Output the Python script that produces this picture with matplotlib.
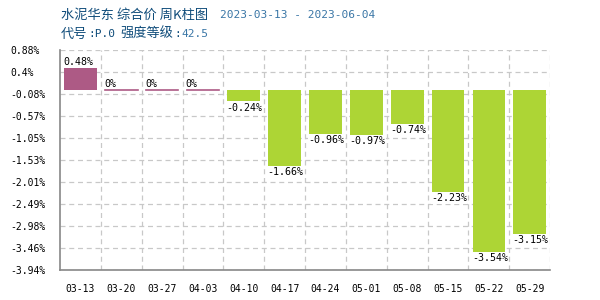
import numpy as np
import matplotlib.pyplot as plt

# weekly change data
weeks = ['03-13', '03-20', '03-27', '04-03', '04-10', '04-17',
         '04-24', '05-01', '05-08', '05-15', '05-22', '05-29']
change = [0.48, 0, 0, 0, -0.24, -1.66, -0.96, -0.97, -0.74, -2.23, -3.54, -3.15]
yticks = [0.88, 0.4, -0.08, -0.57, -1.05, -1.53, -2.01, -2.49, -2.98, -3.46, -3.94]
ytick_labels = ['0.88%', '0.4%', '-0.08%', '-0.57%', '-1.05%', '-1.53%',
                '-2.01%', '-2.49%', '-2.98%', '-3.46%', '-3.94%']

up_color = '#AD5A85'
down_color = '#ADD535'
mono = 'DejaVu Sans Mono'
cjk = ['Noto Sans CJK SC', 'DejaVu Sans']
dark_blue = '#0F4C7A'
light_blue = '#3A76A6'

fig = plt.figure(figsize=(6, 3), dpi=100)
ax = fig.add_axes([0.1, 0.1, 0.817, 0.733])

x = np.arange(len(weeks))
colors = [up_color if v >= 0 else down_color for v in change]
ax.bar(x, change, width=0.8, color=colors, zorder=3)
# flat weeks drawn as a thin line
for i, v in enumerate(change):
    if v == 0:
        ax.plot([i - 0.4, i + 0.4], [0, 0], color=up_color, lw=1.2, zorder=3)

for i, v in enumerate(change):
    lbl = '%g%%' % v
    if v >= 0:
        ax.text(i - 0.42, v + 0.03, lbl, ha='left', va='bottom', fontsize=7.2,
                family=mono, zorder=4)
    else:
        ax.text(i - 0.42, v - 0.03, lbl, ha='left', va='top', fontsize=7.2,
                family=mono, zorder=4,
                bbox=dict(facecolor='white', edgecolor='none', pad=0.3))

ax.set_xlim(-0.5, len(weeks) - 0.5)
ax.set_ylim(-3.94, 0.88)
ax.set_yticks(yticks)
ax.set_yticklabels(ytick_labels, family=mono, fontsize=7, ha='left')
ax.set_xticks(x)
ax.set_xticklabels(weeks, family=mono, fontsize=7)
ax.tick_params(length=0)
ax.tick_params(axis='x', pad=10)
ax.tick_params(axis='y', pad=36)

for gy in yticks:
    ax.axhline(gy, color='#c8c8c8', lw=0.9, ls=(0, (4, 3)), zorder=1)
for gx in np.arange(0.5, len(weeks), 1):
    ax.axvline(gx, color='#c8c8c8', lw=0.9, ls=(0, (4, 3)), zorder=1)

for s in ['top', 'right']:
    ax.spines[s].set_visible(False)
for s in ['left', 'bottom']:
    ax.spines[s].set_color('#888888')
    ax.spines[s].set_linewidth(1.2)

y1 = 1 - 15 / 300
y2 = 1 - 34 / 300
fig.text(61 / 600, y1, '水泥华东 综合价 周K柱图', family=cjk, fontsize=9.5,
         color=dark_blue, va='center', ha='left')
fig.text(220 / 600, y1, '2023-03-13 - 2023-06-04', family=mono, fontsize=8,
         color=light_blue, va='center', ha='left')
fig.text(61 / 600, y2, '代号', family=cjk, fontsize=9.5,
         color=dark_blue, va='center', ha='left')
fig.text(88 / 600, y2, ':P.0', family=mono, fontsize=8,
         color=dark_blue, va='center', ha='left')
fig.text(120 / 600, y2, '强度等级', family=cjk, fontsize=9.5,
         color=dark_blue, va='center', ha='left')
fig.text(174 / 600, y2, ':', family=mono, fontsize=8,
         color=dark_blue, va='center', ha='left')
fig.text(181 / 600, y2, '42.5', family=mono, fontsize=8,
         color=light_blue, va='center', ha='left')

fig.savefig('out.png', dpi=100)
